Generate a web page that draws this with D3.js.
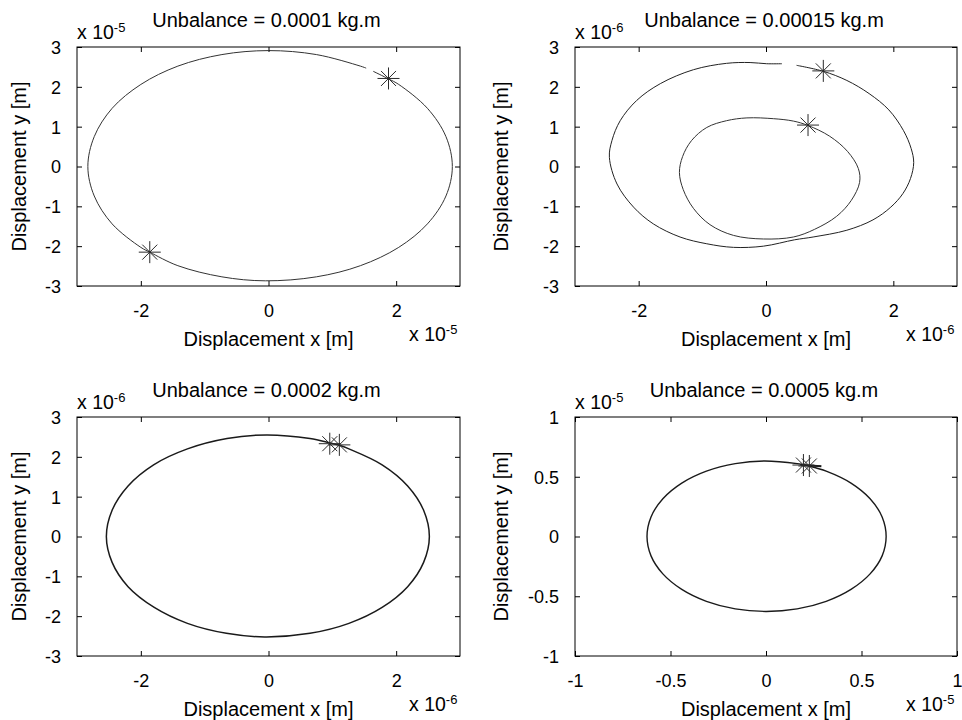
<!DOCTYPE html>
<html>
<head>
<meta charset="utf-8">
<script src="https://cdn.jsdelivr.net/npm/d3@7/dist/d3.min.js"></script>
<style>
  html, body { margin: 0; padding: 0; background: #fff; }
  svg { display: block; }
  text { font-family: "Liberation Sans", Arial, Helvetica, sans-serif; fill: #000; }
</style>
</head>
<body>
<svg id="fig" width="962" height="720"></svg>
<script>
// ---- Orbit data (displacements, in units of the axis exponent) ----

// Unbalance = 0.0001 kg.m  (x 1e-5 m)
const orbitAX = [1.64, 1.88, 2.04, 2.49, 2.78, 2.88, 2.78, 2.49, 2.04, 1.44, 0.75, -0.05, -0.73, -1.42, -1.86, -2.00, -2.45, -2.73, -2.83, -2.73, -2.45, -2.00, -1.42, -0.73, 0.00, 0.75, 1.44, 1.53];
const orbitAY = [2.39, 2.20, 2.06, 1.46, 0.75, 0.00, -0.74, -1.44, -2.03, -2.49, -2.77, -2.87, -2.77, -2.49, -2.15, -2.03, -1.44, -0.74, 0.00, 0.75, 1.46, 2.06, 2.52, 2.81, 2.91, 2.81, 2.52, 2.47];
const markersAX = [1.88, -1.86];
const markersAY = [2.21, -2.15];

// Unbalance = 0.00015 kg.m  (x 1e-6 m): outer and inner loops
const orbitBOuterX = [0.48, 0.90, 1.27, 1.62, 1.93, 2.16, 2.28, 2.32, 2.27, 2.15, 1.96, 1.68, 1.27, 0.74, 0.45, -0.04, -0.51, -0.93, -1.35, -1.77, -2.08, -2.34, -2.46, -2.42, -2.29, -2.03, -1.66, -1.14, -0.62, -0.25, 0.01, 0.25];
const orbitBOuterY = [2.54, 2.39, 2.16, 1.83, 1.42, 0.90, 0.45, 0.10, -0.30, -0.68, -1.02, -1.34, -1.60, -1.77, -1.84, -2.00, -2.03, -1.94, -1.77, -1.44, -1.02, -0.44, 0.23, 0.65, 1.15, 1.66, 2.08, 2.43, 2.59, 2.61, 2.58, 2.58];
const orbitBInnerX = [0.66, 1.00, 1.28, 1.45, 1.47, 1.34, 1.11, 0.76, 0.43, -0.04, -0.51, -0.88, -1.14, -1.30, -1.36, -1.31, -1.17, -0.93, -0.62, -0.30, 0.12, 0.43];
const orbitBInnerY = [1.03, 0.76, 0.38, -0.05, -0.40, -0.85, -1.25, -1.58, -1.77, -1.82, -1.73, -1.46, -1.05, -0.58, -0.15, 0.25, 0.65, 0.98, 1.15, 1.22, 1.20, 1.14];
const markersBX = [0.90, 0.66];
const markersBY = [2.40, 1.04];

// Unbalance = 0.0002 kg.m  (x 1e-6 m)
const orbitCX = [0.96, 1.11, 1.26, 1.78, 2.18, 2.43, 2.52, 2.43, 2.18, 1.78, 1.26, 0.65, -0.06, -0.66, -1.27, -1.79, -2.20, -2.45, -2.54, -2.45, -2.20, -1.80, -1.27, -0.65, -0.03, 0.65];
const orbitCY = [2.35, 2.29, 2.20, 1.80, 1.27, 0.66, 0.00, -0.65, -1.26, -1.78, -2.18, -2.43, -2.52, -2.43, -2.18, -1.78, -1.26, -0.65, 0.00, 0.66, 1.27, 1.80, 2.20, 2.46, 2.55, 2.46];
const markersCX = [0.96, 1.11];
const markersCY = [2.33, 2.30];

// Unbalance = 0.0005 kg.m  (x 1e-5 m)
const orbitDX = [0.196, 0.227, 0.315, 0.445, 0.545, 0.608, 0.629, 0.608, 0.545, 0.445, 0.315, 0.163, 0.000, -0.161, -0.312, -0.441, -0.540, -0.602, -0.623, -0.602, -0.540, -0.441, -0.312, -0.161, -0.010, 0.163];
const orbitDY = [0.600, 0.589, 0.547, 0.447, 0.316, 0.164, 0.000, -0.162, -0.313, -0.443, -0.543, -0.606, -0.627, -0.606, -0.543, -0.443, -0.313, -0.162, 0.000, 0.164, 0.316, 0.447, 0.547, 0.610, 0.632, 0.610];
const tailDX = [0.18, 0.29];
const tailDY = [0.600, 0.588];
const markersDX = [0.196, 0.227];
const markersDY = [0.598, 0.590];

// ---- Axis ticks and labels ----
const ticks3 = [-3, -2, -1, 0, 1, 2, 3];
const ticksX3 = [-2, 0, 2];
const ticks1 = [-1, -0.5, 0, 0.5, 1];
const titles = ["Unbalance = 0.0001 kg.m", "Unbalance = 0.00015 kg.m", "Unbalance = 0.0002 kg.m", "Unbalance = 0.0005 kg.m"];
const exponents = ["-5", "-6", "-6", "-5"];
const xLabel = "Displacement x [m]";
const yLabel = "Displacement y [m]";

const zip = (xs, ys) => xs.map((x, i) => [x, ys[i]]);

const panels = [
  { box: [77, 460, 47, 286], dom: [-3, 3], xt: ticksX3, yt: ticks3, ylabX: 26,
    lines: [{ pts: zip(orbitAX, orbitAY), closed: false, w: 1, c: "#333" }],
    stars: zip(markersAX, markersAY) },
  { box: [575, 957, 47, 286], dom: [-3, 3], xt: ticksX3, yt: ticks3, ylabX: 507.5,
    lines: [{ pts: zip(orbitBOuterX, orbitBOuterY), closed: false, w: 1, c: "#222" },
            { pts: zip(orbitBInnerX, orbitBInnerY), closed: true, w: 1, c: "#333" }],
    stars: zip(markersBX, markersBY) },
  { box: [77, 460, 417, 656], dom: [-3, 3], xt: ticksX3, yt: ticks3, ylabX: 26,
    lines: [{ pts: zip(orbitCX, orbitCY), closed: true, w: 1.5, c: "#1a1a1a" }],
    stars: zip(markersCX, markersCY) },
  { box: [575, 957, 417, 656], dom: [-1, 1], xt: ticks1, yt: ticks1, ylabX: 507.5,
    lines: [{ pts: zip(orbitDX, orbitDY), closed: true, w: 1.4, c: "#1a1a1a" },
            { pts: zip(tailDX, tailDY), closed: false, w: 1.8, c: "#111" }],
    stars: zip(markersDX, markersDY) }
];

const svg = d3.select("#fig");
svg.append("rect").attr("width", 962).attr("height", 720).attr("fill", "#fff");

const fmt = d => (d === 0 ? "0" : String(d));

panels.forEach((p, i) => {
  const [l, r, t, b] = p.box;
  const x = d3.scaleLinear().domain(p.dom).range([l, r]);
  const y = d3.scaleLinear().domain(p.dom).range([b, t]);
  const g = svg.append("g");

  // orbit traces
  const clip = "clip" + i;
  g.append("clipPath").attr("id", clip).append("rect")
    .attr("x", l).attr("y", t).attr("width", r - l).attr("height", b - t);
  p.lines.forEach(ln => {
    const gen = d3.line().x(d => x(d[0])).y(d => y(d[1]))
      .curve(ln.closed ? d3.curveCatmullRomClosed : d3.curveCatmullRom);
    g.append("path").attr("d", gen(ln.pts))
      .attr("fill", "none").attr("stroke", ln.c)
      .attr("stroke-width", ln.w).attr("clip-path", `url(#${clip})`);
  });

  // asterisk markers
  p.stars.forEach(s => {
    const cx = x(s[0]), cy = y(s[1]);
    const a = 11, d = 7.5;
    const m = g.append("g").attr("stroke", "#2a2a2a").attr("stroke-width", 1);
    [[-a, 0, a, 0], [0, -a, 0, a], [-d, -d, d, d], [-d, d, d, -d]].forEach(s2 => {
      m.append("line").attr("x1", cx + s2[0]).attr("y1", cy + s2[1])
        .attr("x2", cx + s2[2]).attr("y2", cy + s2[3]);
    });
  });

  // axes with inward ticks on all four sides
  const tk = 5;
  const axB = g.append("g").attr("transform", `translate(0,${b})`)
    .call(d3.axisBottom(x).tickValues(p.xt).tickSizeInner(-tk).tickSizeOuter(0).tickPadding(0).tickFormat(fmt));
  axB.selectAll("text").attr("y", 31).attr("dy", null).style("font-size", "18px");
  const axT = g.append("g").attr("transform", `translate(0,${t})`)
    .call(d3.axisTop(x).tickValues(p.xt).tickSizeInner(-tk).tickSizeOuter(0).tickFormat(""));
  const axL = g.append("g").attr("transform", `translate(${l},0)`)
    .call(d3.axisLeft(y).tickValues(p.yt).tickSizeInner(-tk).tickSizeOuter(0).tickFormat(fmt));
  axL.selectAll("text").attr("x", -16).attr("dy", "0.36em").style("font-size", "18px");
  const axR = g.append("g").attr("transform", `translate(${r},0)`)
    .call(d3.axisRight(y).tickValues(p.yt).tickSizeInner(-tk).tickSizeOuter(0).tickFormat(""));
  [axB, axT, axL, axR].forEach(a => {
    a.select(".domain").remove();
    a.selectAll("line").attr("stroke", "#000");
    a.attr("font-family", null).attr("font-size", null);
  });

  g.append("rect").attr("x", l).attr("y", t).attr("width", r - l).attr("height", b - t)
    .attr("fill", "none").attr("stroke", "#000").attr("stroke-width", 1);

  // title
  g.append("text").attr("x", (l + r) / 2 - 2).attr("y", t - 20.5)
    .attr("text-anchor", "middle").style("font-size", "20px").text(titles[i]);

  // axis labels
  g.append("text").attr("x", (l + r) / 2).attr("y", b + 59.5)
    .attr("text-anchor", "middle").style("font-size", "20px").text(xLabel);
  g.append("text").attr("transform", `translate(${p.ylabX},${(t + b) / 2}) rotate(-90)`)
    .attr("text-anchor", "middle").style("font-size", "20px").text(yLabel);

  // exponent multipliers
  const expTop = g.append("text").attr("x", l).attr("y", t - 8).style("font-size", "19.5px");
  expTop.append("tspan").text("x 10");
  expTop.append("tspan").attr("dy", -7).style("font-size", "13px").text(exponents[i]);
  const expBot = g.append("text").attr("x", r - 51).attr("y", b + 54.5).style("font-size", "19.5px");
  expBot.append("tspan").text("x 10");
  expBot.append("tspan").attr("dy", -7).style("font-size", "13px").text(exponents[i]);
});
</script>
</body>
</html>
